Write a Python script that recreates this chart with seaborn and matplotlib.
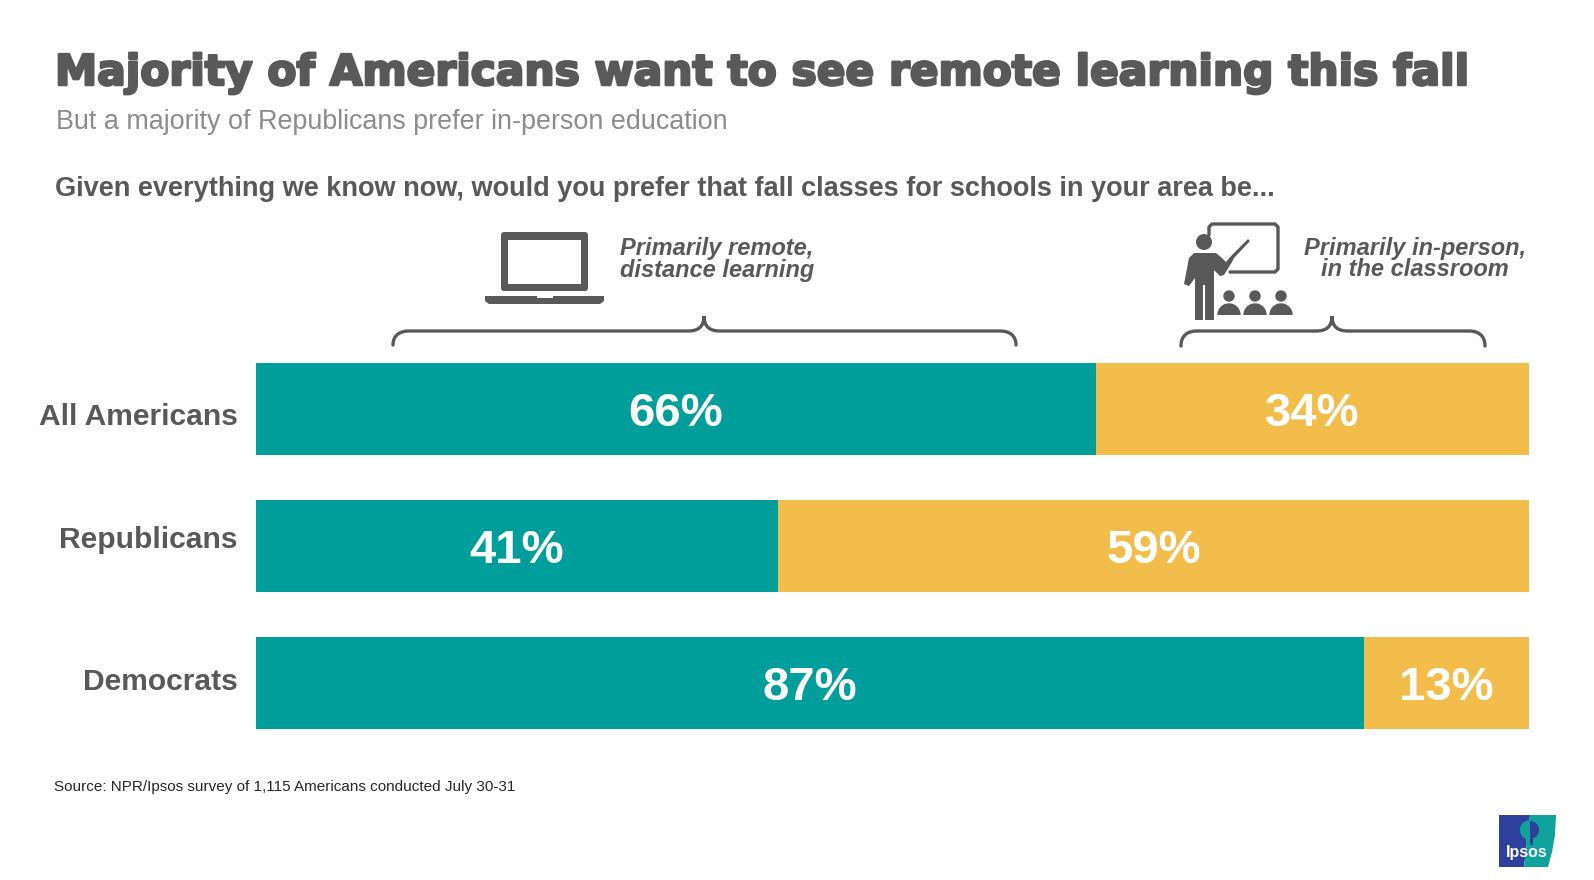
import matplotlib
matplotlib.use('Agg')
import matplotlib.pyplot as plt
import matplotlib.patheffects as pe
import pandas as pd
import seaborn as sns
from matplotlib.path import Path
from matplotlib.patches import PathPatch, Rectangle, Circle, FancyBboxPatch, Wedge, Polygon

groups = ['All Americans', 'Republicans', 'Democrats']
remote = [66, 41, 87]
in_person = [34, 59, 13]

TEAL = '#009E9B'
GOLD = '#F2BD4A'
GREY = '#595959'
W, H = 1594, 880

sns.set_theme(style='white')
plt.rcParams['font.family'] = ['Liberation Sans', 'DejaVu Sans']

fig = plt.figure(figsize=(W / 100, H / 100), dpi=100, facecolor='white')


def px_axes(x0, y0, x1, y1):
    return fig.add_axes([x0 / W, 1 - y1 / H, (x1 - x0) / W, (y1 - y0) / H])


# bars
df = pd.DataFrame({'group': groups, 'remote': remote, 'in_person': in_person})
ax = px_axes(256, 340.4, 1529, 751.4)
sns.barplot(data=df, y='group', x='remote', color=TEAL, width=0.668, saturation=1, linewidth=0, ax=ax)
sns.barplot(data=df, y='group', x='in_person', left=df['remote'], color=GOLD, width=0.668, saturation=1, linewidth=0, ax=ax)
ax.set_xlim(0, 100)
ax.set_xlabel('')
ax.set_ylabel('')
ax.set_xticks([])
ax.set_yticks([])
sns.despine(ax=ax, left=True, bottom=True)

# the row labels sit a little off the bar centres in the original
label_shift = [0.06, -0.04, -0.008]
for i, (name, shift) in enumerate(zip(groups, label_shift)):
    ax.text(-1.46, i + shift, name, color=GREY, fontsize=21.6, fontweight='bold', ha='right', va='center')

for i, (r, p) in enumerate(zip(remote, in_person)):
    ax.text(r / 2, i + 0.036, f'{r}%', color='white', fontsize=34, fontweight='bold', ha='center', va='center')
    ax.text(r + p / 2, i + 0.036, f'{p}%', color='white', fontsize=34, fontweight='bold', ha='center', va='center')

# overlay in pixel coordinates for text and icons
ov = fig.add_axes([0, 0, 1, 1], zorder=5)
ov.set_xlim(0, W)
ov.set_ylim(H, 0)
ov.axis('off')
ov.patch.set_alpha(0)

title = ov.text(55, 73, 'Majority of Americans want to see remote learning this fall', fontsize=30.5,
                family='DejaVu Sans', fontweight='bold', color=GREY, va='center', ha='left')
title.set_path_effects([pe.withStroke(linewidth=1.8, foreground=GREY)])
ov.text(56, 122, 'But a majority of Republicans prefer in-person education', fontsize=19.4, color='#8C8C8C', va='center')
ov.text(55, 189, 'Given everything we know now, would you prefer that fall classes for schools in your area be...',
        fontsize=19.5, fontweight='bold', color=GREY, va='center')
ov.text(620, 249, 'Primarily remote,', fontsize=17, fontweight='bold', style='italic', color=GREY, va='center')
ov.text(620, 271, 'distance learning', fontsize=17, fontweight='bold', style='italic', color=GREY, va='center')
ov.text(1415, 248, 'Primarily in-person,', fontsize=17, fontweight='bold', style='italic', color=GREY, va='center', ha='center')
ov.text(1415, 270, 'in the classroom', fontsize=17, fontweight='bold', style='italic', color=GREY, va='center', ha='center')
ov.text(54, 787, 'Source: NPR/Ipsos survey of 1,115 Americans conducted July 30-31', fontsize=11, color='#262626', va='center')


def brace(x0, xm, x1, ytop, ylow, tip):
    r = 16
    verts = [(x0, ylow), (x0, ytop + 5), (x0 + 6, ytop), (x0 + r, ytop),
             (xm - r, ytop), (xm - 6, ytop), (xm, ytop - 4), (xm, tip),
             (xm, ytop - 4), (xm + 6, ytop), (xm + r, ytop),
             (x1 - r, ytop), (x1 - 6, ytop), (x1, ytop + 5), (x1, ylow)]
    codes = [Path.MOVETO, Path.CURVE4, Path.CURVE4, Path.CURVE4,
             Path.LINETO, Path.CURVE4, Path.CURVE4, Path.CURVE4,
             Path.CURVE4, Path.CURVE4, Path.CURVE4,
             Path.LINETO, Path.CURVE4, Path.CURVE4, Path.CURVE4]
    ov.add_patch(PathPatch(Path(verts, codes), fill=False, ec=GREY, lw=2.4, capstyle='round'))


brace(393, 704, 1016, 331, 345, 316)
brace(1181, 1332, 1485, 331, 346, 316)

# laptop
ov.add_patch(FancyBboxPatch((501, 232), 87, 59, boxstyle='round,pad=0,rounding_size=3', fc=GREY, ec='none'))
ov.add_patch(Rectangle((508, 240), 73, 44, fc='white', ec='none'))
ov.add_patch(Polygon([(485, 296), (604, 296), (604, 301), (600, 304), (489, 304), (485, 301)], fc=GREY, ec='none'))
ov.add_patch(Rectangle((537, 296), 16, 2.5, fc='white', ec='none'))

# teacher and board
ov.plot([1209, 1209, 1212, 1275, 1278, 1278, 1275, 1230], [235, 227, 224, 224, 227, 269, 272, 272], color=GREY, lw=2.4)
ov.add_patch(Circle((1204, 242), 8, fc=GREY, ec='none'))
ov.add_patch(Polygon([(1194, 253), (1216, 253), (1222, 258), (1226, 262), (1232, 255), (1248, 239), (1250, 241),
                      (1234, 258), (1232, 262), (1224, 275), (1220, 276), (1214, 270), (1214, 320), (1205, 320),
                      (1205, 285), (1203, 285), (1203, 320), (1195, 320), (1195, 278), (1189, 286), (1184, 284),
                      (1189, 258)], fc=GREY, ec='none'))
for cx in (1229, 1255, 1281):
    ov.add_patch(Circle((cx, 296), 5.7, fc=GREY, ec='none'))
    ov.add_patch(Wedge((cx, 315), 11.7, 180, 360, fc=GREY, ec='none'))

# logo
ov.add_patch(Polygon([(1499, 815), (1530, 815), (1524, 867), (1499, 867)], fc='#2E3F9E', ec='none'))
ov.add_patch(Polygon([(1530, 815), (1556, 815), (1555, 835), (1552, 852), (1548, 867), (1524, 867)], fc='#0FA39B', ec='none'))
ov.add_patch(Wedge((1530, 830), 10, 90, 270, fc='#0FA39B', ec='none'))
ov.add_patch(Wedge((1530, 830), 9, 270, 90, fc='#2E3F9E', ec='none'))
ov.add_patch(Rectangle((1526, 838), 4, 7, fc='#0FA39B', ec='none'))
ov.add_patch(Rectangle((1530, 838), 3, 7, fc='#2E3F9E', ec='none'))
ov.text(1527, 853, 'Ipsos', color='white', fontsize=11.5, fontweight='bold', ha='center', va='center')

fig.savefig('out.png', dpi=100, facecolor='white')
